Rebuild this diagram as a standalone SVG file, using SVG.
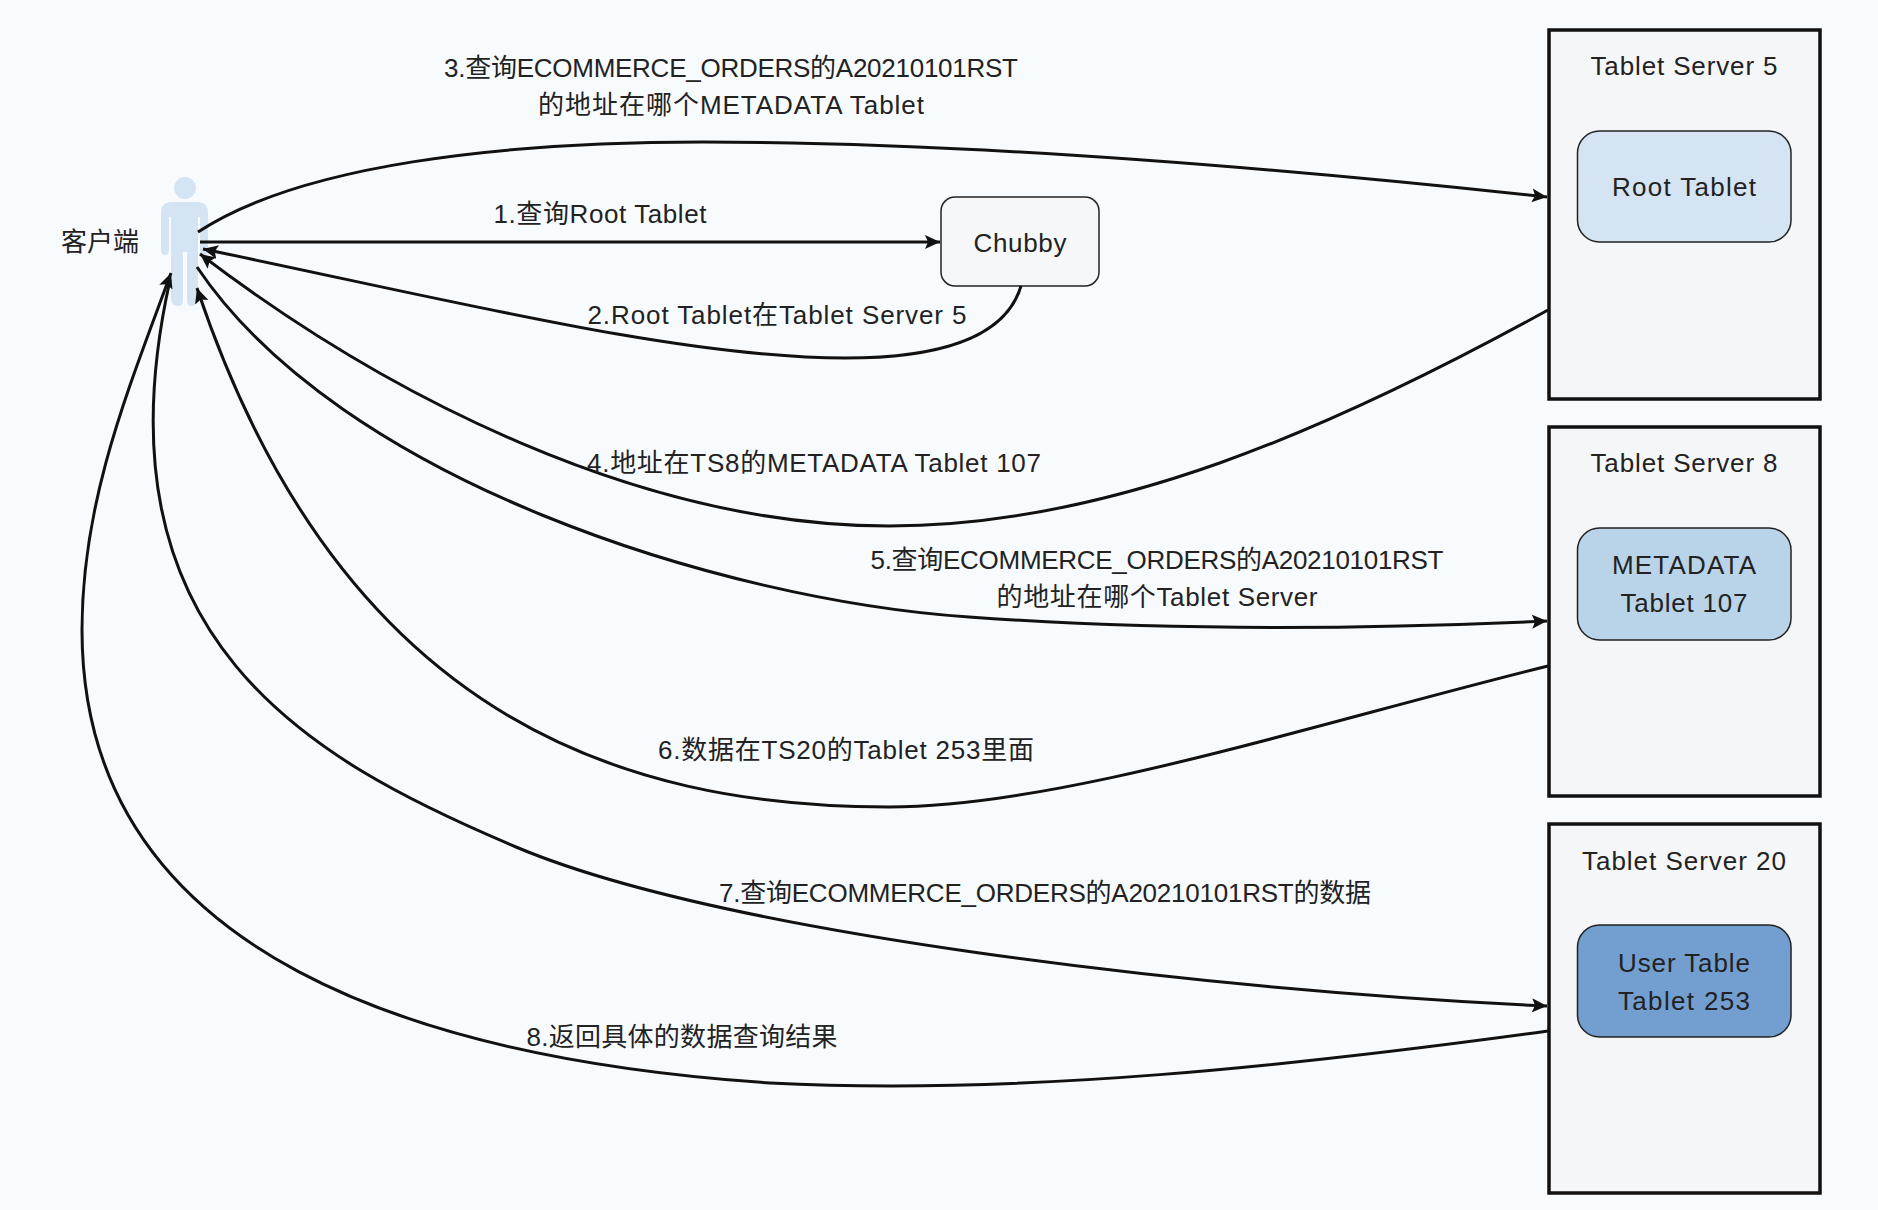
<svg xmlns="http://www.w3.org/2000/svg" width="1878" height="1210" viewBox="0 0 1878 1210">
<style>
text{font-family:"Liberation Sans","Noto Sans CJK SC",sans-serif;font-size:26px;fill:#222;text-anchor:middle}
.srv{fill:#f5f6f8;stroke:#111;stroke-width:3.500}
.tab{stroke:#222;stroke-width:1.500}
.c{fill:none;stroke:#111;stroke-width:3;marker-end:url(#a)}
</style>
<defs><marker id="a" markerUnits="userSpaceOnUse" markerWidth="18" markerHeight="16" refX="15" refY="7" orient="auto"><path d="M0 0L15 7L0 14L3 7Z" fill="#111"/></marker></defs>
<rect width="1878" height="1210" fill="#f8fbfd"/>
<g id="client"><circle cx="185" cy="188" r="11" fill="#d4e4f2"/><path d="M172 202H197Q208 202 208 213V250Q208 255 204 255Q200 255 200 250V217H198V298Q198 306 191 306Q187 306 187 300V252H183V300Q183 306 178 306Q171 306 171 298V217H169V250Q169 255 165 255Q161 255 161 250V213Q161 202 172 202Z" fill="#d4e4f2"/><text x="100" y="251" textLength="78">客户端</text></g>
<g id="chubby"><rect x="941" y="197" width="158" height="89" rx="14" fill="#f6f7f9" stroke="#222" stroke-width="1.500"/><text x="1020" y="252" textLength="93">Chubby</text></g>
<g id="ts5"><rect class="srv" x="1549" y="30" width="271" height="369"/><text x="1684" y="75" textLength="187">Tablet Server 5</text><rect class="tab" x="1577.500" y="131" width="213.500" height="111" rx="22" fill="#d4e4f2"/><text x="1684" y="196" textLength="144">Root Tablet</text></g>
<g id="ts8"><rect class="srv" x="1549" y="427" width="271" height="369"/><text x="1684" y="472" textLength="187">Tablet Server 8</text><rect class="tab" x="1577.500" y="528" width="213.500" height="112" rx="22" fill="#b9d4e9"/><text x="1684" y="574" textLength="144">METADATA</text><text x="1684" y="612" textLength="127">Tablet 107</text></g>
<g id="ts20"><rect class="srv" x="1549" y="824" width="271" height="369"/><text x="1684" y="870" textLength="204">Tablet Server 20</text><rect class="tab" x="1577.500" y="925" width="213.500" height="112" rx="22" fill="#729fcf"/><text x="1684" y="972" textLength="132">User Table</text><text x="1684" y="1010" textLength="132">Tablet 253</text></g>
<g id="connectors">
<path class="c" d="M198 232C300 165 500 142 703 142C950 142 1250 165 1547 197"/>
<path class="c" d="M200 242H940"/>
<path class="c" d="M1021 286C1005 340 935 358 845 358C680 358 450 300 203 249"/>
<path class="c" d="M1548 310C1330 430 1110 526 889 526C640 526 385 395 200 254"/>
<path class="c" d="M197 267C340 480 720 600 969 617C1150 630 1350 630 1547 621"/>
<path class="c" d="M1548 666C1310 725 1060 807 889 807C620 807 340 716 197 288"/>
<path class="c" d="M170 280C90 640 310 760 516 847C720 933 1200 990 1547 1006"/>
<path class="c" d="M1548 1031C1300 1065 1020 1096 770 1083C430 1060 82 960 82 630C82 500 128 390 171 273"/>
</g>
<g id="labels">
<text x="731" y="77" textLength="574">3.查询ECOMMERCE_ORDERS的A20210101RST</text>
<text x="731" y="114" textLength="386">的地址在哪个METADATA Tablet</text>
<text x="600" y="223" textLength="213">1.查询Root Tablet</text>
<text x="777" y="324" textLength="379">2.Root Tablet在Tablet Server 5</text>
<text x="814" y="472" textLength="454">4.地址在TS8的METADATA Tablet 107</text>
<text x="1157" y="569" textLength="573">5.查询ECOMMERCE_ORDERS的A20210101RST</text>
<text x="1157" y="606" textLength="321">的地址在哪个Tablet Server</text>
<text x="846" y="759" textLength="376">6.数据在TS20的Tablet 253里面</text>
<text x="1045" y="902" textLength="652">7.查询ECOMMERCE_ORDERS的A20210101RST的数据</text>
<text x="682" y="1046" textLength="311">8.返回具体的数据查询结果</text>
</g>
</svg>
